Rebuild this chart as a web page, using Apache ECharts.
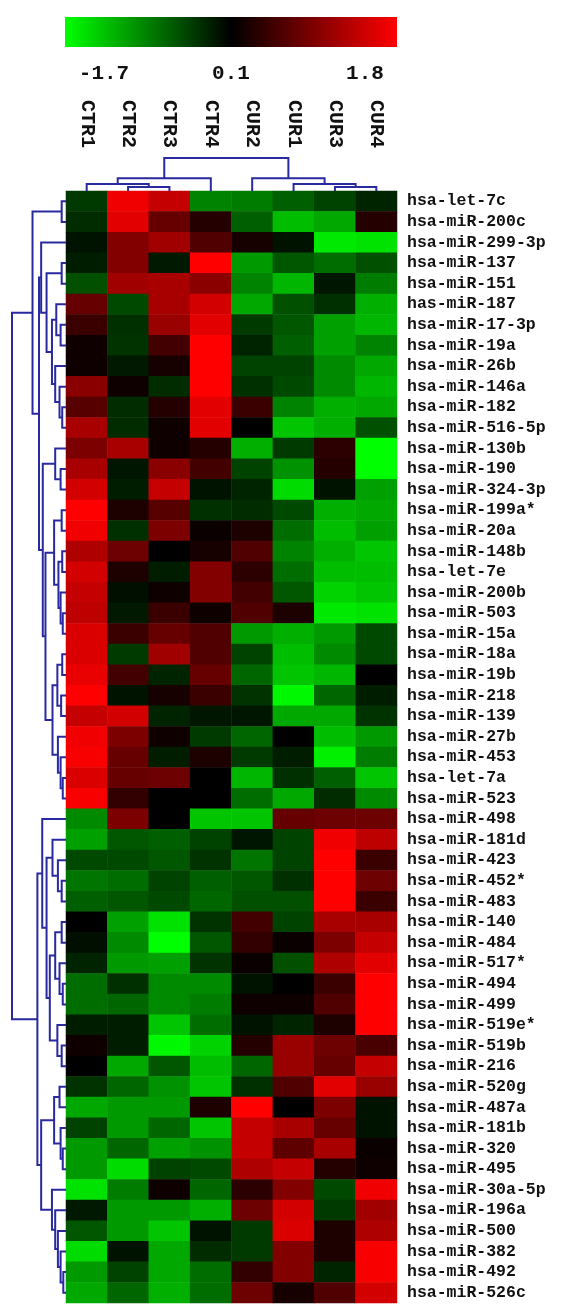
<!DOCTYPE html>
<html>
<head>
<meta charset="utf-8">
<script src="https://cdn.jsdelivr.net/npm/echarts@6/dist/echarts.min.js"></script>
<style>
html,body{margin:0;padding:0;background:#fff;}
#chart{width:562px;height:1307px;}
</style>
</head>
<body>
<div id="chart"></div>
<script>
// ---------------- data ----------------
const colLabels = ['CTR1','CTR2','CTR3','CTR4','CUR2','CUR1','CUR3','CUR4'];
const rowLabels = ['hsa-let-7c','hsa-miR-200c','hsa-miR-299-3p','hsa-miR-137','hsa-miR-151','has-miR-187',
  'hsa-miR-17-3p','hsa-miR-19a','hsa-miR-26b','hsa-miR-146a','hsa-miR-182','hsa-miR-516-5p','hsa-miR-130b',
  'hsa-miR-190','hsa-miR-324-3p','hsa-miR-199a*','hsa-miR-20a','hsa-miR-148b','hsa-let-7e','hsa-miR-200b',
  'hsa-miR-503','hsa-miR-15a','hsa-miR-18a','hsa-miR-19b','hsa-miR-218','hsa-miR-139','hsa-miR-27b',
  'hsa-miR-453','hsa-let-7a','hsa-miR-523','hsa-miR-498','hsa-miR-181d','hsa-miR-423','hsa-miR-452*',
  'hsa-miR-483','hsa-miR-140','hsa-miR-484','hsa-miR-517*','hsa-miR-494','hsa-miR-499','hsa-miR-519e*',
  'hsa-miR-519b','hsa-miR-216','hsa-miR-520g','hsa-miR-487a','hsa-miR-181b','hsa-miR-320','hsa-miR-495',
  'hsa-miR-30a-5p','hsa-miR-196a','hsa-miR-500','hsa-miR-382','hsa-miR-492','hsa-miR-526c'];

const ctr1 = [-0.35,-0.25,-0.08,-0.15,-0.5,0.75,0.45,0.15,0.15,1.0,
  0.65,1.2,0.9,1.2,1.5,1.8,1.7,1.25,1.5,1.4,
  1.35,1.55,1.55,1.65,1.8,1.4,1.7,1.75,1.55,1.75,
  -0.9,-1.05,-0.45,-0.75,-0.6,0.05,-0.05,-0.2,-0.7,-0.7,
  -0.15,0.15,0.05,-0.3,-1.1,-0.4,-1.0,-1.0,-1.5,-0.12,
  -0.55,-1.45,-1.0,-1.1];
const ctr2 = [1.7,1.6,0.95,0.95,1.15,-0.45,-0.28,-0.3,-0.12,0.15,
  -0.25,-0.25,1.2,-0.1,-0.15,0.25,-0.28,0.8,0.25,-0.05,
  -0.12,0.45,-0.35,0.5,-0.08,1.5,0.9,0.75,0.75,0.4,
  0.9,-0.55,-0.45,-0.7,-0.55,-1.05,-0.9,-1.0,-0.28,-0.65,
  -0.15,-0.15,-1.1,-0.65,-1.0,-1.0,-0.65,-1.45,-0.8,-1.0,
  -1.0,-0.08,-0.4,-0.65];
const ctr3 = [1.4,0.75,1.15,-0.12,1.2,1.2,1.1,0.5,0.2,-0.25,
  0.3,0.15,0.15,1.0,1.4,0.65,0.9,0.05,-0.15,0.15,
  0.45,0.75,1.15,-0.2,0.2,-0.2,0.15,-0.15,0.8,0.05,
  0.05,-0.6,-0.55,-0.4,-0.45,-1.5,-1.7,-1.05,-0.9,-0.9,
  -1.3,-1.65,-0.55,-0.95,-1.0,-0.65,-1.05,-0.4,0.15,-1.0,
  -1.3,-1.1,-1.1,-1.15];
const ctr4 = [-0.85,0.3,0.6,1.8,1.0,1.5,1.6,1.8,1.8,1.8,
  1.6,1.6,0.3,0.5,-0.08,-0.28,0.12,0.2,0.95,0.95,
  0.15,0.6,0.6,0.75,0.45,-0.1,-0.35,0.25,0.05,0.05,
  -1.3,-0.4,-0.3,-0.6,-0.65,-0.3,-0.55,-0.3,-0.9,-0.8,
  -0.7,-1.4,-1.25,-1.3,0.25,-1.3,-0.95,-0.45,-0.65,-1.15,
  -0.08,-0.25,-0.7,-0.7];
const cur2 = [-0.8,-0.6,0.2,-1.0,-0.85,-1.1,-0.35,-0.2,-0.4,-0.28,
  0.45,0.05,-1.15,-0.4,-0.2,-0.25,0.25,0.6,0.35,0.5,
  0.6,-1.0,-0.4,-0.65,-0.3,-0.1,-0.65,-0.35,-1.2,-0.7,
  -1.3,-0.1,-0.75,-0.55,-0.5,0.5,0.4,0.12,-0.08,0.15,
  -0.08,0.3,-0.65,-0.28,1.8,1.4,1.4,1.25,0.35,0.8,
  -0.35,-0.35,0.4,0.8];
const cur1 = [-0.6,-1.25,-0.08,-0.55,-1.2,-0.5,-0.55,-0.6,-0.4,-0.45,
  -0.85,-1.3,-0.35,-0.95,-1.45,-0.45,-0.7,-0.85,-0.7,-0.55,
  0.25,-1.15,-1.25,-1.3,-1.65,-1.1,0.05,-0.15,-0.28,-1.1,
  0.75,-0.4,-0.4,-0.28,-0.5,-0.4,0.12,-0.5,0.05,0.15,
  -0.2,1.1,1.1,0.6,0.05,1.2,0.7,1.4,0.95,1.5,
  1.55,0.95,0.95,0.2];
const cur3 = [-0.4,-1.1,-1.55,-0.7,-0.1,-0.28,-1.05,-1.05,-0.9,-0.9,
  -1.15,-1.15,0.35,0.3,-0.08,-1.15,-1.25,-1.15,-1.25,-1.4,
  -1.55,-1.0,-0.9,-1.2,-0.65,-1.1,-1.25,-1.6,-0.6,-0.25,
  0.8,1.7,1.8,1.8,1.8,1.2,0.9,1.25,0.45,0.6,
  0.25,0.8,0.75,1.6,0.9,0.75,1.2,0.3,-0.45,-0.35,
  0.25,0.25,-0.2,0.6];
const cur4 = [-0.2,0.3,-1.5,-0.5,-0.8,-1.15,-1.2,-0.85,-1.1,-1.2,
  -1.1,-0.5,-1.7,-1.7,-1.05,-1.1,-1.05,-1.3,-1.25,-1.3,
  -1.5,-0.45,-0.45,0.05,-0.15,-0.3,-1.0,-0.8,-1.3,-0.9,
  0.8,1.35,0.45,0.8,0.45,1.2,1.4,1.6,1.8,1.8,
  1.8,0.55,1.4,1.1,-0.08,-0.08,0.12,0.15,1.7,1.15,
  1.25,1.75,1.75,1.5];

const colorTicks = ['-1.7', '0.1', '1.8'];
const colorMin = -1.7, colorMax = 1.8;

// dendrograms: [left, right, mergeHeight]; leaves are row / column indices
const colTree = [[[0, [1, 2, 0.12], 0.21], 3, 0.39], [4, [5, [6, 7, 0.12], 0.21], 0.39], 1.0];

const rowTreeTop = [[0, 1, 0.08],
  [[2, [[3, 4, 0.08], [[5, [6, 7, 0.1], 0.18], [8, [9, [10, 11, 0.07], 0.12], 0.2], 0.26], 0.36], 0.46],
   [[12, [13, 14, 0.1], 0.2],
    [[[15, 16, 0.08], [[17, 18, 0.07], [19, [20, 21, 0.06], 0.1], 0.14], 0.22],
     [[[22, 23, 0.07], [24, 25, 0.09], 0.16], [26, [27, [28, 29, 0.06], 0.1], 0.15], 0.25], 0.38], 0.43],
   0.5],
  0.62];
const rowTreeBottom = [
  [30, [[31, [32, [33, 34, 0.08], 0.15], 0.25],
        [[[35, 36, 0.08], [37, [38, 39, 0.06], 0.12], 0.2], [40, [41, 42, 0.08], 0.16], 0.3], 0.36], 0.44],
  [[[43, 44, 0.12], [45, [46, 47, 0.06], 0.1], 0.22],
   [48, [49, [50, [51, [52, 53, 0.05], 0.1], 0.15], 0.2], 0.26], 0.46],
  0.53];
const rowTree = [rowTreeTop, rowTreeBottom, 1.0];

// ---------------- build ----------------
const columns = [ctr1, ctr2, ctr3, ctr4, cur2, cur1, cur3, cur4];
const heatData = [];
columns.forEach((col, ci) => col.forEach((v, ri) => heatData.push([ci, ri, v])));

function segments(tree) {
  const segs = [];
  (function walk(n) {
    if (typeof n === 'number') return { pos: n + 0.5, h: 0 };
    const l = walk(n[0]), r = walk(n[1]);
    segs.push([l.pos, l.h, r.pos, r.h, n[2]]);
    return { pos: (l.pos + r.pos) / 2, h: n[2] };
  })(tree);
  return segs;
}
const rowSegs = segments(rowTree);
const colSegs = segments(colTree);

const lineColor = '#2a2aa0';
const FONT = "'Liberation Mono', 'DejaVu Sans Mono', monospace";
const tickFont = "bold 21px 'Liberation Mono', monospace";

const chart = echarts.init(document.getElementById('chart'), null, { renderer: 'canvas' });
const HM = { left: 66, top: 191, width: 331, height: 1112 };

chart.setOption({
  backgroundColor: '#ffffff',
  animation: false,
  grid: [
    { left: HM.left, top: HM.top, width: HM.width, height: HM.height },
    { left: 12, top: HM.top, width: HM.left - 12, height: HM.height },
    { left: HM.left, top: 158, width: HM.width, height: HM.top - 158 }
  ],
  xAxis: [
    { type: 'category', data: colLabels, gridIndex: 0, position: 'top',
      axisLine: { show: false }, axisTick: { show: false }, splitLine: { show: false },
      axisLabel: { rotate: 90, margin: 43, fontFamily: FONT, fontWeight: 'bold', fontSize: 20, color: '#111' } },
    { type: 'value', gridIndex: 1, min: 0, max: 1, inverse: true, show: false },
    { type: 'value', gridIndex: 2, min: 0, max: colLabels.length, show: false }
  ],
  yAxis: [
    { type: 'category', data: rowLabels, gridIndex: 0, inverse: true, position: 'right',
      axisLine: { show: false }, axisTick: { show: false }, splitLine: { show: false },
      axisLabel: { margin: 10, fontFamily: FONT, fontWeight: 'bold', fontSize: 16.5, color: '#111', interval: 0 } },
    { type: 'value', gridIndex: 1, min: 0, max: rowLabels.length, inverse: true, show: false },
    { type: 'value', gridIndex: 2, min: 0, max: 1, show: false }
  ],
  visualMap: {
    show: false, type: 'continuous', min: colorMin, max: colorMax, seriesIndex: 0, dimension: 2,
    inRange: { color: ['#00ff00', '#000000', '#ff0000'] }
  },
  graphic: [
    { type: 'rect', left: 65, top: 17, shape: { width: 332, height: 30 },
      style: { fill: new echarts.graphic.LinearGradient(0, 0, 1, 0, [
        { offset: 0, color: '#00ff00' }, { offset: 0.5, color: '#000000' }, { offset: 1, color: '#ff0000' }]) } },
    { type: 'text', x: 104, y: 74, style: { text: colorTicks[0], align: 'center', verticalAlign: 'middle',
      font: tickFont, fill: '#111' } },
    { type: 'text', x: 231, y: 74, style: { text: colorTicks[1], align: 'center', verticalAlign: 'middle',
      font: tickFont, fill: '#111' } },
    { type: 'text', x: 365, y: 74, style: { text: colorTicks[2], align: 'center', verticalAlign: 'middle',
      font: tickFont, fill: '#111' } }
  ],
  series: [
    { type: 'heatmap', xAxisIndex: 0, yAxisIndex: 0, data: heatData,
      itemStyle: { borderWidth: 0 }, emphasis: { disabled: true } },
    { type: 'custom', xAxisIndex: 1, yAxisIndex: 1, data: rowSegs, silent: true,
      renderItem: (params, api) => {
        const pl = api.value(0), hl = api.value(1), pr = api.value(2), hr = api.value(3), h = api.value(4);
        return { type: 'polyline',
          shape: { points: [api.coord([hl, pl]), api.coord([h, pl]), api.coord([h, pr]), api.coord([hr, pr])] },
          style: { stroke: lineColor, lineWidth: 2, fill: null } };
      } },
    { type: 'custom', xAxisIndex: 2, yAxisIndex: 2, data: colSegs, silent: true,
      renderItem: (params, api) => {
        const pl = api.value(0), hl = api.value(1), pr = api.value(2), hr = api.value(3), h = api.value(4);
        return { type: 'polyline',
          shape: { points: [api.coord([pl, hl]), api.coord([pl, h]), api.coord([pr, h]), api.coord([pr, hr])] },
          style: { stroke: lineColor, lineWidth: 2, fill: null } };
      } }
  ]
});
</script>
</body>
</html>
